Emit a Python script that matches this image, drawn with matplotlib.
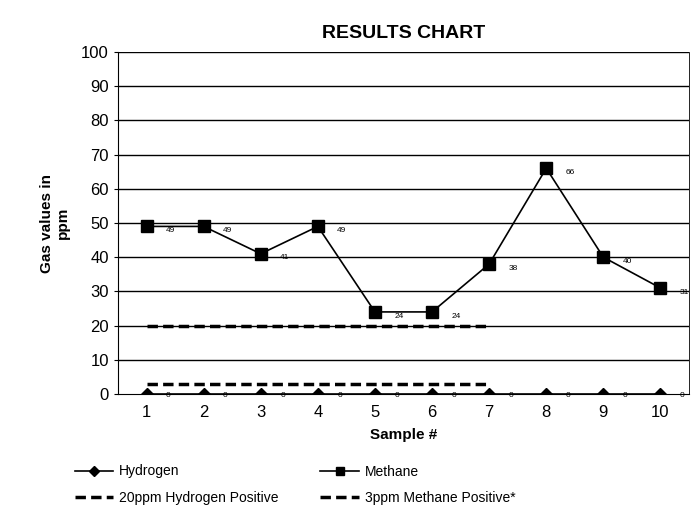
import matplotlib.pyplot as plt

plt.rcParams['font.family'] = ['Liberation Sans', 'DejaVu Sans']

samples = [1, 2, 3, 4, 5, 6, 7, 8, 9, 10]
hydrogen = [0, 0, 0, 0, 0, 0, 0, 0, 0, 0]
methane = [49, 49, 41, 49, 24, 24, 38, 66, 40, 31]
h2_pos_x = [1, 2, 3, 4, 5, 6, 7]
h2_pos = [20, 20, 20, 20, 20, 20, 20]
ch4_pos_x = [1, 2, 3, 4, 5, 6, 7]
ch4_pos = [3, 3, 3, 3, 3, 3, 3]

fig = plt.figure(figsize=(6.92, 5.16), dpi=100)
ax = fig.add_axes([118 / 692, 1 - 394 / 516, 571 / 692, 342 / 516])

for y in range(10, 101, 10):
    ax.axhline(y, color='black', lw=1.0, zorder=1)

l1, = ax.plot(samples, hydrogen, color='black', lw=1.2, marker='D', ms=6,
              label='Hydrogen', zorder=3)
l2, = ax.plot(samples, methane, color='black', lw=1.2, marker='s', ms=8,
              label='Methane', zorder=3)
l3, = ax.plot(h2_pos_x, h2_pos, color='black', lw=2.5, ls=(0, (3, 1.5)),
              label='20ppm Hydrogen Positive', zorder=2)
l4, = ax.plot(ch4_pos_x, ch4_pos, color='black', lw=2.5, ls=(0, (3, 1.5)),
              label='3ppm Methane Positive*', zorder=2)

for x, v in zip(samples, methane):
    ax.annotate(str(v), (x, v), xytext=(14, -3), textcoords='offset points',
                fontsize=6, va='center')
for x, v in zip(samples, hydrogen):
    ax.annotate(str(v), (x, v), xytext=(14, -1), textcoords='offset points',
                fontsize=6, va='center')

ax.set_xlim(0.5, 10.5)
ax.set_ylim(0, 100)
ax.set_xticks(samples)
ax.set_yticks(range(0, 101, 10))
ax.tick_params(labelsize=12, length=3)
ax.tick_params(axis='x', length=0, pad=8)
ax.spines['top'].set_visible(False)
ax.spines['right'].set_linewidth(0.6)

ax.set_title('RESULTS CHART', fontsize=14, fontweight='bold', pad=10)
ax.set_ylabel('Gas values in\nppm', fontsize=11, fontweight='bold', labelpad=8)
ax.set_xlabel('Sample #', fontsize=11, fontweight='bold', labelpad=6)

fig.legend(handles=[l1, l3, l2, l4], loc='upper left', ncol=2,
           bbox_to_anchor=(62 / 692, 1 - 452 / 516), frameon=False,
           fontsize=10, columnspacing=3.0, handlelength=2.8,
           handletextpad=0.4, labelspacing=0.9, markerscale=0.8)

fig.savefig('out.png', dpi=100)
